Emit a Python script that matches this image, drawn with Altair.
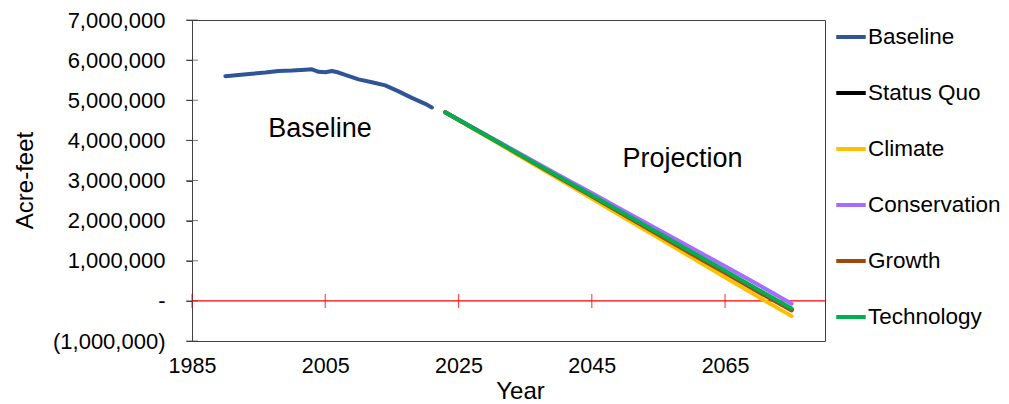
import altair as alt
import pandas as pd

# ---------------- data ----------------
base_years = [1990, 1992, 1994, 1996, 1998, 2000, 2002, 2003, 2004, 2005, 2006, 2007,
              2008, 2010, 2012, 2014, 2016, 2018, 2020, 2021]
base_vals = [5.60e6, 5.63e6, 5.66e6, 5.69e6, 5.73e6, 5.74e6, 5.76e6, 5.77e6, 5.71e6, 5.70e6,
             5.73e6, 5.69e6, 5.63e6, 5.52e6, 5.45e6, 5.37e6, 5.22e6, 5.06e6, 4.91e6, 4.82e6]

proj_years = [2023, 2030, 2035, 2040, 2045, 2050, 2055, 2060, 2065, 2070, 2075]
status_quo = [4.70e6, 4.04e6, 3.57e6, 3.09e6, 2.62e6, 2.15e6, 1.68e6, 1.20e6, 0.73e6, 0.26e6, -0.22e6]
climate = [4.70e6, 4.02e6, 3.53e6, 3.04e6, 2.55e6, 2.06e6, 1.57e6, 1.08e6, 0.59e6, 0.10e6, -0.38e6]
conservation = [4.70e6, 4.06e6, 3.60e6, 3.14e6, 2.69e6, 2.23e6, 1.77e6, 1.32e6, 0.86e6, 0.40e6, -0.07e6]
growth = [4.70e6, 4.04e6, 3.56e6, 3.08e6, 2.61e6, 2.13e6, 1.65e6, 1.17e6, 0.70e6, 0.22e6, -0.24e6]
technology = [4.70e6, 4.04e6, 3.57e6, 3.10e6, 2.63e6, 2.16e6, 1.69e6, 1.22e6, 0.75e6, 0.28e6, -0.19e6]

series_names = ["Baseline", "Status Quo", "Climate", "Conservation", "Growth", "Technology"]
series_colors = ["#2F5597", "#000000", "#FFC000", "#A66BFF", "#9E480E", "#00B050"]

x_ticks = [1985, 2005, 2025, 2045, 2065]
y_ticks = [-1e6, 0, 1e6, 2e6, 3e6, 4e6, 5e6, 6e6, 7e6]

ann_text = ["Baseline", "Projection"]
ann_x = [2004.2, 2058.6]
ann_y = [4.30e6, 3.55e6]

# ---------------- tables ----------------
rows = [{"Year": y, "Value": v, "Series": "Baseline"} for y, v in zip(base_years, base_vals)]
for name, vals in [("Status Quo", status_quo), ("Climate", climate), ("Conservation", conservation),
                   ("Growth", growth), ("Technology", technology)]:
    rows += [{"Year": y, "Value": v, "Series": name} for y, v in zip(proj_years, vals)]
df = pd.DataFrame(rows)

FONT = "Liberation Sans"
xscale = alt.Scale(domain=[1985, 2080], nice=False, zero=False)
yscale = alt.Scale(domain=[-1e6, 7e6], nice=False)
cscale = alt.Scale(domain=series_names, range=series_colors)

label_expr = ("datum.value == 0 ? '-' : (datum.value < 0 ? '(' + format(-datum.value, ',') + ')' "
              ": format(datum.value, ','))")

x_axis = alt.Axis(values=x_ticks, format="d", title="Year", domain=False, ticks=False,
                  grid=False, labelFont=FONT, labelFontSize=21.5, labelColor="#000000",
                  labelPadding=14, labelFlush=False, labelOverlap=False,
                  titleFont=FONT, titleFontSize=24, titleFontWeight="normal",
                  titleColor="#000000", titleX=328, titleY=57, titleBaseline="alphabetic")
y_axis = alt.Axis(values=y_ticks, labelExpr=label_expr, title="Acre-feet", grid=False,
                  domainColor="#404040", tickColor="#404040", tickSize=6,
                  labelFont=FONT, labelFontSize=22, labelColor="#000000", labelPadding=21,
                  labelFlush=False, labelOverlap=False,
                  titleFont=FONT, titleFontSize=24, titleFontWeight="normal",
                  titleColor="#000000", titleX=-167, titleY=160, titleAngle=-90,
                  titleAlign="center", titleBaseline="middle")


def X(field):
    return alt.X(field, scale=xscale, axis=x_axis, title="Year")


def Y(field):
    return alt.Y(field, scale=yscale, axis=y_axis, title="Acre-feet")


layers = []

# zero line (red)
zero_df = pd.DataFrame({"Value": [0], "Year": [1985], "Year2": [2080]})
layers.append(
    alt.Chart(zero_df).mark_rule(color="#FF0000", strokeWidth=1.2).encode(
        x=X("Year:Q"), x2="Year2:Q", y=Y("Value:Q"))
)
# red ticks on zero line
xt_df = pd.DataFrame({"Year": x_ticks, "Value": [0] * len(x_ticks)})
layers.append(
    alt.Chart(xt_df).mark_tick(color="#FF0000", orient="vertical", size=14, thickness=1.2).encode(
        x=X("Year:Q"), y=Y("Value:Q"))
)
# inner y ticks (make ticks cross the axis)
yt_df = pd.DataFrame({"Value": y_ticks, "Year": [1985] * len(y_ticks)})
layers.append(
    alt.Chart(yt_df).mark_tick(color="#404040", orient="horizontal", size=12, thickness=1).encode(
        x=X("Year:Q"), y=Y("Value:Q"))
)

legend = alt.Legend(title=None, orient="none", legendX=642, legendY=0,
                    symbolType="stroke", symbolSize=870, symbolStrokeWidth=4,
                    labelFont=FONT, labelFontSize=22.5, labelColor="#000000",
                    labelOffset=0, rowPadding=27, values=series_names)

for name in series_names:
    layers.append(
        alt.Chart(df).transform_filter(alt.datum.Series == name)
        .mark_line(strokeWidth=4, strokeCap="round", strokeJoin="round").encode(
            x=X("Year:Q"), y=Y("Value:Q"),
            color=alt.Color("Series:N", scale=cscale, sort=series_names, legend=legend))
    )

ann_df = pd.DataFrame({"t": ann_text, "Year": ann_x, "Value": ann_y})
layers.append(
    alt.Chart(ann_df).mark_text(font=FONT, fontSize=27, color="#000000", baseline="middle",
                                align="center", dy=1).encode(
        x=X("Year:Q"), y=Y("Value:Q"), text="t:N")
)

chart = alt.layer(*layers).properties(
    width=633, height=321,
    autosize=alt.AutoSizeParams(type="none"),
    padding={"left": 184, "top": 12, "right": 176, "bottom": 63},
    background="white",
).configure_view(stroke="#404040", strokeWidth=1)

chart.save("out.html", embed_options={"renderer": "svg", "actions": False})
